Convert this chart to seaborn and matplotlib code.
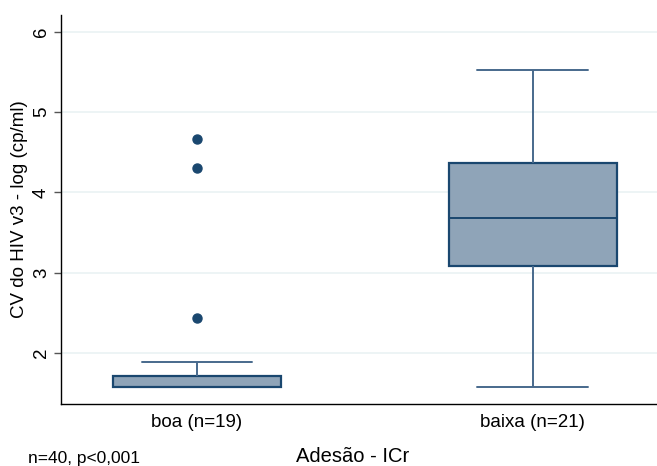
import matplotlib
matplotlib.use("Agg")
import matplotlib.pyplot as plt
import seaborn as sns
import pandas as pd

# Adherence groups and viral load values (log cp/ml)
groups = ["boa (n=19)", "baixa (n=21)"]
boa_values = [1.58, 1.58, 1.58, 1.58, 1.58, 1.58, 1.58, 1.58, 1.58, 1.58,
              1.58, 1.62, 1.68, 1.70, 1.74, 1.89, 2.43, 4.31, 4.67]
baixa_values = [1.58, 2.10, 2.45, 2.80, 2.95, 3.08, 3.20, 3.35, 3.48, 3.60,
                3.68, 3.80, 3.95, 4.10, 4.25, 4.365, 4.50, 4.70, 4.95, 5.20, 5.53]
y_ticks = [2, 3, 4, 5, 6]

df = pd.DataFrame({
    "grupo": [groups[0]] * len(boa_values) + [groups[1]] * len(baixa_values),
    "cv": boa_values + baixa_values,
})

sns.set_style("white")
plt.rcParams["font.family"] = ["Liberation Sans", "DejaVu Sans"]
plt.rcParams["text.color"] = "black"
plt.rcParams["axes.labelcolor"] = "black"
plt.rcParams["xtick.color"] = "black"
plt.rcParams["ytick.color"] = "black"

fig = plt.figure(figsize=(6.57, 4.66), dpi=100)
ax = fig.add_axes([0.0928, 0.133, 0.9072, 0.835])

navy = "#1a476f"
line_col = "#48698c"
sns.boxplot(data=df, x="grupo", y="cv", order=groups, ax=ax,
            width=0.5, whis=1.5, fill=True, color="#8fa4b8", saturation=1,
            linewidth=1.4, capwidths=0.33,
            boxprops=dict(facecolor="#8fa4b8", edgecolor=navy, linewidth=1.6),
            medianprops=dict(color=navy, linewidth=1.4),
            whiskerprops=dict(color=line_col, linewidth=1.4),
            capprops=dict(color=line_col, linewidth=1.4),
            flierprops=dict(marker="o", markerfacecolor=navy, markeredgecolor=navy,
                            markersize=6.5))

ax.set_xlim(-0.405, 1.37)
ax.set_ylim(1.365, 6.21)
ax.set_yticks(y_ticks)
ax.set_yticklabels([str(t) for t in y_ticks], rotation=90, va="center", fontsize=13.5)
ax.tick_params(axis="y", length=5, width=1, color="#555555", pad=3, left=True)
ax.tick_params(axis="x", length=0, labelsize=13.5, pad=7)
for t in y_ticks:
    ax.axhline(t, color="#eaf2f3", linewidth=1.2, zorder=0)

sns.despine(ax=ax, top=True, right=True)
ax.spines["left"].set_color("black")
ax.spines["bottom"].set_color("black")
ax.spines["left"].set_linewidth(1)
ax.spines["bottom"].set_linewidth(1)

ax.set_ylabel("CV do HIV v3 - log (cp/ml)", fontsize=13.5, va="center")
ax.yaxis.set_label_coords(-0.069, 0.5)
ax.set_xlabel("Adesão - ICr", fontsize=14.5, va="center")
ax.xaxis.set_label_coords(0.49, -0.136)
fig.text(28 / 657, 1 - 458 / 466, "n=40, p<0,001", fontsize=12.5, va="center", ha="left")

plt.savefig("out.png", dpi=100)
